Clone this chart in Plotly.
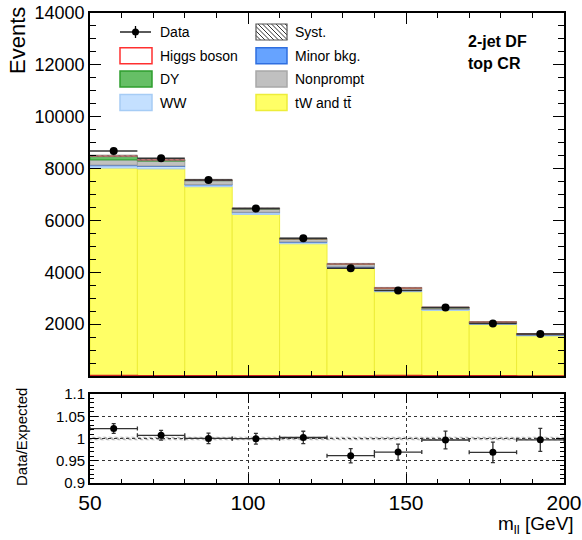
import numpy as np
import plotly.graph_objects as go

# ---------------- data ----------------
bin_edges = [50, 65, 80, 95, 110, 125, 140, 155, 170, 185, 200]
data_counts = [8680, 8400, 7560, 6460, 5310, 4160, 3300, 2640, 2020, 1620]
data_err = [93, 92, 87, 80, 73, 64, 57, 51, 45, 40]
top_tw = [8020, 7990, 7300, 6230, 5100, 4150, 3250, 2530, 1990, 1550]
ww = [90, 90, 70, 70, 60, 50, 45, 35, 30, 25]
minor_bkg = [25, 20, 15, 15, 12, 10, 8, 7, 6, 5]
nonprompt = [200, 190, 150, 130, 110, 100, 80, 60, 50, 40]
dy = [140, 40, 15, 10, 8, 7, 6, 5, 4, 3]
higgs = [15, 10, 8, 8, 8, 10, 15, 12, 5, 2]
syst_rel = [0.004, 0.004, 0.004, 0.004, 0.004, 0.004, 0.004, 0.004, 0.004, 0.004]
ratio_err = [0.011, 0.011, 0.012, 0.012, 0.014, 0.016, 0.018, 0.020, 0.023, 0.026]
main_yticks = [2000, 4000, 6000, 8000, 10000, 12000, 14000]
ratio_yticks = [0.9, 0.95, 1.0, 1.05, 1.1]
ratio_ylabels = ["0.9", "0.95", "1", "1.05", "1.1"]
xticks = [50, 100, 150, 200]

# ---------------- derived ----------------
edges = np.array(bin_edges, dtype=float)
centers = 0.5 * (edges[:-1] + edges[1:])
widths = np.diff(edges)
halfw = widths / 2
stack = [
    ("tW and tt\u0304", top_tw, "#ffff66", "#eded3a"),
    ("WW", ww, "#c4e0ff", "#a6ccf5"),
    ("Minor bkg.", minor_bkg, "#66a3ff", "#2f6fe0"),
    ("Nonprompt", nonprompt, "#c0c0c0", "#a0a0a0"),
    ("DY", dy, "#66bf66", "#2e9e2e"),
    ("Higgs boson", higgs, "rgba(255,255,255,0)", "#ff5050"),
]
total = np.zeros(len(centers))
for _, v, _, _ in stack:
    total = total + np.array(v, dtype=float)
data_arr = np.array(data_counts, dtype=float)
ratio = data_arr / total
srel = np.array(syst_rel)

W, H = 582, 540
def px(x):
    return x / W
def py(y):
    return 1 - y / H

FONT = "Liberation Sans, Arial, sans-serif"
fig = go.Figure()

# stacked background histograms (overlay bars with explicit bases)
base = np.zeros(len(centers))
for name, vals, fill, line in stack:
    v = np.array(vals, dtype=float)
    fig.add_trace(go.Bar(x=centers, y=v, base=base, width=widths,
                         marker=dict(color=fill, line=dict(color=line, width=1)),
                         name=name, xaxis="x", yaxis="y", showlegend=False,
                         hoverinfo="skip"))
    base = base + v

# systematic band on top of the stack
fig.add_trace(go.Bar(x=centers, y=2 * srel * total, base=total * (1 - srel), width=widths,
                     marker=dict(color="rgba(150,150,150,0.35)", line=dict(color="#777", width=0.5),
                                 pattern=dict(shape="\\", fgcolor="#333", size=4, solidity=0.3)),
                     xaxis="x", yaxis="y", showlegend=False, hoverinfo="skip"))

# Higgs boson (unstacked) outline
fig.add_trace(go.Scatter(x=list(edges), y=list(higgs) + [higgs[-1]], mode="lines",
                         line=dict(color="#d02020", width=1.5, shape="hv"),
                         xaxis="x", yaxis="y", showlegend=False, hoverinfo="skip"))

# data
fig.add_trace(go.Scatter(x=centers, y=data_arr, mode="markers",
                         marker=dict(color="black", size=8),
                         error_x=dict(type="data", array=halfw, color="#333", thickness=1.5, width=0),
                         error_y=dict(type="data", array=data_err, color="#333", thickness=1.5, width=0),
                         xaxis="x", yaxis="y", showlegend=False))

# ratio panel: syst band
fig.add_trace(go.Bar(x=centers, y=2 * srel, base=1 - srel, width=widths,
                     marker=dict(color="rgba(255,255,255,0)", line=dict(width=0),
                                 pattern=dict(shape="\\", fgcolor="#555", size=4, solidity=0.5)),
                     xaxis="x2", yaxis="y2", showlegend=False, hoverinfo="skip"))
fig.add_trace(go.Scatter(x=centers, y=ratio, mode="markers",
                         marker=dict(color="black", size=7),
                         error_x=dict(type="data", array=halfw, color="#333", thickness=1.3, width=2),
                         error_y=dict(type="data", array=ratio_err, color="#333", thickness=1.3, width=2),
                         xaxis="x2", yaxis="y2", showlegend=False))

xdom = [px(90), px(564)]
axis_common = dict(showline=True, linecolor="black", linewidth=1.8, mirror="allticks",
                   ticks="inside", tickcolor="black", zeroline=False, automargin=False)

fig.update_layout(
    width=W, height=H, margin=dict(l=0, r=0, t=0, b=0, pad=0),
    paper_bgcolor="white", plot_bgcolor="white", barmode="overlay",
    font=dict(family=FONT, color="black"),
    showlegend=False,
    xaxis=dict(domain=xdom, range=[50, 200], anchor="y", showticklabels=False,
               tickvals=xticks, ticklen=11, showgrid=False,
               minor=dict(dtick=10, tick0=50, ticklen=5, ticks="inside", tickcolor="black"),
               **axis_common),
    yaxis=dict(domain=[py(376), py(13)], range=[0, 14000], anchor="x",
               tickvals=main_yticks, ticktext=[str(v) for v in main_yticks], ticklen=11,
               tickfont=dict(size=18), showgrid=False, ticklabeloverflow="allow",
               minor=dict(dtick=500, tick0=0, ticklen=6, ticks="inside", tickcolor="black"),
               **axis_common),
    xaxis2=dict(domain=xdom, range=[50, 200], anchor="y2",
                tickvals=xticks, ticktext=[str(v) for v in xticks],
                tickfont=dict(size=21), ticklen=9, ticklabeloverflow="allow",
                showgrid=True, gridcolor="#333", griddash="dot", gridwidth=1,
                minor=dict(dtick=10, tick0=50, ticklen=4, ticks="inside", tickcolor="black"),
                **axis_common),
    yaxis2=dict(domain=[py(483), py(394)], range=[0.9, 1.1], anchor="x2",
                tickvals=ratio_yticks, ticktext=ratio_ylabels,
                tickfont=dict(size=15), ticklen=8, ticklabeloverflow="allow",
                showgrid=True, gridcolor="#333", griddash="dot", gridwidth=1,
                minor=dict(dtick=0.01, tick0=0.9, ticklen=4, ticks="inside", tickcolor="black",
                           showgrid=False),
                **axis_common),
)

P = dict(xref="paper", yref="paper", showarrow=False)
annotations = [
    dict(x=px(17.5), y=py(5), text="Events", textangle=-90,
         xanchor="center", yanchor="top", font=dict(size=22), **P),
    dict(x=px(21), y=py(437), text="Data/Expected", textangle=-90,
         xanchor="center", yanchor="middle", font=dict(size=15), **P),
    dict(x=px(576), y=py(525), text="m<sub>ll</sub> [GeV]",
         xanchor="right", yanchor="middle", font=dict(size=19), **P),
    dict(x=px(466), y=py(42), text="<b>2-jet DF</b>",
         xanchor="left", yanchor="middle", font=dict(size=16), **P),
    dict(x=px(466), y=py(63), text="<b>top CR</b>",
         xanchor="left", yanchor="middle", font=dict(size=16), **P),
]
shapes = []

# ---------------- legend (drawn manually, two columns) ----------------
rows = [32, 55.7, 79, 102.5]
col_box = [(120, 152), (256, 287)]
col_txt = [158, 293]
entries = [
    ("Data", "data", 0, 0),
    ("Syst.", "syst", 1, 0),
    ("Higgs boson", ("rgba(255,255,255,0)", "#ff3030"), 0, 1),
    ("Minor bkg.", ("#66a3ff", "#2f6fe0"), 1, 1),
    ("DY", ("#66bf66", "#2e9e2e"), 0, 2),
    ("Nonprompt", ("#c0c0c0", "#a8a8a8"), 1, 2),
    ("WW", ("#c4e0ff", "#a6ccf5"), 0, 3),
    ("tW and tt\u0304", ("#ffff66", "#eded3a"), 1, 3),
]
for label, style, c, r in entries:
    yc = rows[r]
    x0, x1 = col_box[c]
    if style == "data":
        shapes.append(dict(type="line", xref="paper", yref="paper", x0=px(x0), x1=px(x1 - 1),
                           y0=py(yc), y1=py(yc), line=dict(color="black", width=1.3)))
        xm = (x0 + x1 - 1) / 2
        shapes.append(dict(type="line", xref="paper", yref="paper", x0=px(xm), x1=px(xm),
                           y0=py(yc - 6), y1=py(yc + 6), line=dict(color="black", width=1.3)))
        shapes.append(dict(type="circle", xref="paper", yref="paper", x0=px(xm - 3.5), x1=px(xm + 3.5),
                           y0=py(yc + 3.5), y1=py(yc - 3.5), fillcolor="black", line=dict(width=0)))
    elif style == "syst":
        y0, y1 = yc - 8, yc + 8
        hgt = y1 - y0
        segs = []
        for s in np.arange(x0 - hgt, x1, 4.5):
            xa, ya = s, y0
            xb, yb = s + hgt, y1
            if xa < x0:
                ya = y0 + (x0 - xa); xa = x0
            if xb > x1:
                yb = y1 - (xb - x1); xb = x1
            if xb > xa:
                segs.append(f"M{px(xa):.5f},{py(ya):.5f} L{px(xb):.5f},{py(yb):.5f}")
        shapes.append(dict(type="path", xref="paper", yref="paper", path=" ".join(segs),
                           line=dict(color="black", width=0.8)))
        shapes.append(dict(type="rect", xref="paper", yref="paper", x0=px(x0), x1=px(x1),
                           y0=py(y1), y1=py(y0), line=dict(color="#555", width=1.2)))
    else:
        fill, line = style
        shapes.append(dict(type="rect", xref="paper", yref="paper", x0=px(x0), x1=px(x1),
                           y0=py(yc + 8), y1=py(yc - 8), fillcolor=fill,
                           line=dict(color=line, width=1.5)))
    annotations.append(dict(x=px(col_txt[c]), y=py(yc), text=label,
                            xanchor="left", yanchor="middle", font=dict(size=14), **P))

fig.update_layout(annotations=annotations, shapes=shapes)
fig.write_html("out.html", config={"displayModeBar": False},
               post_script="document.body.style.margin='0';document.body.style.padding='0';")
